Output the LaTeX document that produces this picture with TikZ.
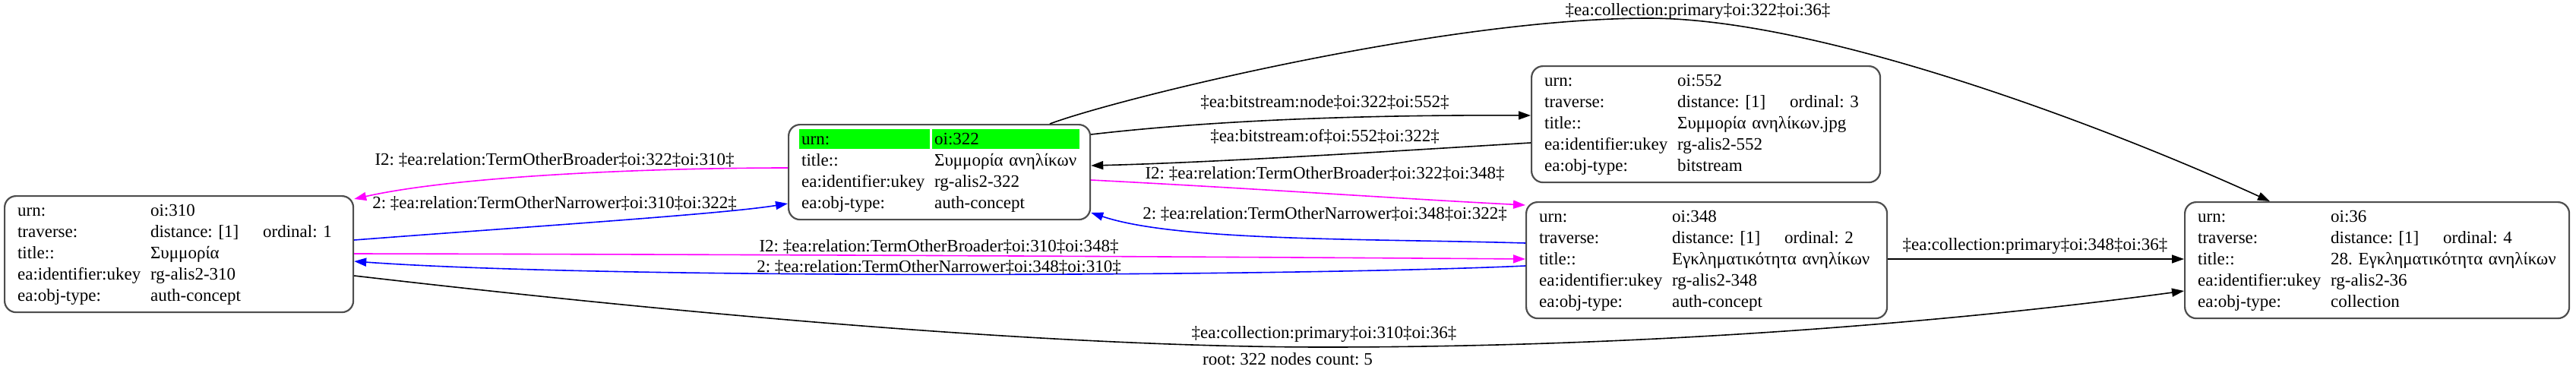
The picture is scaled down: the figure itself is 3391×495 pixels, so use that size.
\documentclass[tikz,border=0pt]{standalone}
\usepackage{fontspec}
\setmainfont{Liberation Serif}
\usetikzlibrary{arrows.meta}
\definecolor{recborder}{HTML}{4D4D4D}
\definecolor{urngreen}{HTML}{00FF00}
\definecolor{relbroader}{HTML}{FF00FF}
\definecolor{relnarrower}{HTML}{0000FF}
\frenchspacing

\begin{document}
\begin{tikzpicture}[x=1pt, y=-1pt, font=\fontsize{23}{28}\selectfont,
  rec/.style={draw=recborder, line width=2.2pt, rounded corners=15pt, inner xsep=17pt, inner ysep=6.5pt, anchor=north west, align=left},
  link/.style={line width=1.6pt, -{Triangle[length=16pt,width=11pt]}},
  lbl/.style={inner sep=0pt}]
	\useasboundingbox (0,0) rectangle (3391,495);
	% records
	\node[rec, text width=425pt] (n310) at (5,257) {\begin{tabular}{@{}p{175pt}@{}p{148pt}@{}l@{}}
		urn: & oi:310 & \\
		traverse: & distance: [1] & ordinal: 1\\
		title:: & \multicolumn{2}{@{}l@{}}{Συμμορία}\\
		ea:identifier:ukey & rg-alis2-310 & \\
		ea:obj-type: & auth-concept &
	\end{tabular}};
	\fill[urngreen] (1052,170) rectangle (1224,196);
	\fill[urngreen] (1227,170) rectangle (1421,196);
	\node[rec, text width=363pt] (n322) at (1037,163) {\begin{tabular}{@{}p{175pt}@{}p{148pt}@{}l@{}}
		urn: & oi:322 & \\
		title:: & \multicolumn{2}{@{}l@{}}{Συμμορία ανηλίκων}\\
		ea:identifier:ukey & rg-alis2-322 & \\
		ea:obj-type: & auth-concept &
	\end{tabular}};
	\node[rec, text width=425pt] (n552) at (2015,86) {\begin{tabular}{@{}p{175pt}@{}p{148pt}@{}l@{}}
		urn: & oi:552 & \\
		traverse: & distance: [1] & ordinal: 3\\
		title:: & \multicolumn{2}{@{}l@{}}{Συμμορία ανηλίκων.jpg}\\
		ea:identifier:ukey & rg-alis2-552 & \\
		ea:obj-type: & bitstream &
	\end{tabular}};
	\node[rec, text width=441pt] (n348) at (2008,265) {\begin{tabular}{@{}p{175pt}@{}p{148pt}@{}l@{}}
		urn: & oi:348 & \\
		traverse: & distance: [1] & ordinal: 2\\
		title:: & \multicolumn{2}{@{}l@{}}{Εγκληματικότητα ανηλίκων}\\
		ea:identifier:ukey & rg-alis2-348 & \\
		ea:obj-type: & auth-concept &
	\end{tabular}};
	\node[rec, text width=472pt] (n36) at (2875,265) {\begin{tabular}{@{}p{175pt}@{}p{148pt}@{}l@{}}
		urn: & oi:36 & \\
		traverse: & distance: [1] & ordinal: 4\\
		title:: & \multicolumn{2}{@{}l@{}}{28. Εγκληματικότητα ανηλίκων}\\
		ea:identifier:ukey & rg-alis2-36 & \\
		ea:obj-type: & collection &
	\end{tabular}};
	% links
	\draw[link, relbroader] (n322.west |- 0,221) .. controls (850,221) and (600,232) .. (n310.east |- 0,262);
	\draw[link, relnarrower] (n310.east |- 0,316) .. controls (700,298) and (950,282) .. (n322.west |- 0,268);
	\draw[link] (n322.east |- 0,177) .. controls (1600,158) and (1800,151) .. (n552.west |- 0,152);
	\draw[link] (n552.west |- 0,188) .. controls (1850,198) and (1600,214) .. (n322.east |- 0,218);
	\draw[link, relbroader] (n322.east |- 0,237) .. controls (1650,248) and (1850,262) .. (n348.west |- 0,270);
	\draw[link, relnarrower] (n348.west |- 0,320) .. controls (1800,314) and (1550,318) .. (n322.east |- 0,280);
	\draw[link, relbroader] (n310.east |- 0,334) .. controls (1000,335) and (1600,338) .. (n348.west |- 0,341);
	\draw[link, relnarrower] (n348.west |- 0,350) .. controls (1700,364) and (800,368) .. (n310.east |- 0,344);
	\draw[link] (1382,0 |- n322.north) .. controls (1470,130) and (1900,24) .. (2170,24) .. controls (2400,24) and (2780,170) .. (2988,0 |- n36.north);
	\draw[link] (n348.east |- 0,341) -- (n36.west |- 0,341);
	\draw[link] (n310.east |- 0,363) .. controls (700,390) and (1300,457) .. (1744,457) .. controls (2200,457) and (2600,420) .. (n36.west |- 0,383);
	% link labels
	\node[lbl] (l322310) at (730,211) {I2: ‡ea:relation:TermOtherBroader‡oi:322‡oi:310‡};
	\node[lbl] (l310322) at (730,268) {2: ‡ea:relation:TermOtherNarrower‡oi:310‡oi:322‡};
	\node[lbl] (l322552) at (1744,135) {‡ea:bitstream:node‡oi:322‡oi:552‡};
	\node[lbl] (l552322) at (1744,180) {‡ea:bitstream:of‡oi:552‡oi:322‡};
	\node[lbl] (l322348) at (1744,229) {I2: ‡ea:relation:TermOtherBroader‡oi:322‡oi:348‡};
	\node[lbl] (l348322) at (1744,282) {2: ‡ea:relation:TermOtherNarrower‡oi:348‡oi:322‡};
	\node[lbl] (l310348) at (1236,325) {I2: ‡ea:relation:TermOtherBroader‡oi:310‡oi:348‡};
	\node[lbl] (l348310) at (1236,352) {2: ‡ea:relation:TermOtherNarrower‡oi:348‡oi:310‡};
	\node[lbl] (l32236) at (2235,15) {‡ea:collection:primary‡oi:322‡oi:36‡};
	\node[lbl] (l34836) at (2679,324) {‡ea:collection:primary‡oi:348‡oi:36‡};
	\node[lbl] (l31036) at (1743,440) {‡ea:collection:primary‡oi:310‡oi:36‡};
	\node[lbl] (caption) at (1695,473) {root: 322 nodes count: 5};
\end{tikzpicture}
\end{document}
